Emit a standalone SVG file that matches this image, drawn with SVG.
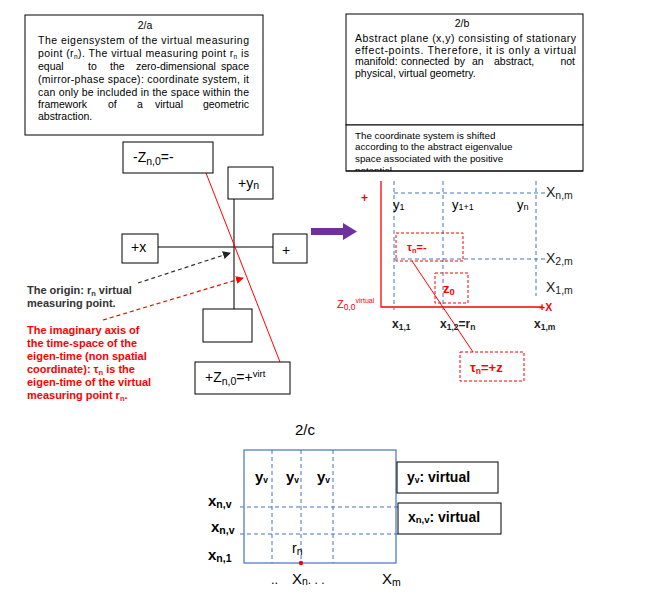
<svg xmlns="http://www.w3.org/2000/svg" width="660" height="598" viewBox="0 0 660 598">
<style>
.t{font-family:"Liberation Sans",Arial,sans-serif;fill:#000}
.p{font-size:10.5px}
.q{font-size:10.5px}
.s{font-size:9.8px}
.o{font-size:11px;font-weight:bold}
.b{font-weight:bold}
.r{fill:#f00}
.box{fill:#fff;stroke:#000;stroke-width:1}
.bd{fill:none;stroke:#4472C4;stroke-width:1;stroke-dasharray:4 3}
.rd{fill:none;stroke:#f00;stroke-width:1;stroke-dasharray:3 2}
.lbl{font-size:13px}
</style>
<defs>
<marker id="ak" markerWidth="8" markerHeight="8" refX="7" refY="4" orient="auto" markerUnits="userSpaceOnUse"><path d="M0,0 L8,4 L0,8 Z" fill="#222"/></marker>
<marker id="ar" markerWidth="8" markerHeight="8" refX="7" refY="4" orient="auto" markerUnits="userSpaceOnUse"><path d="M0,0 L8,4 L0,8 Z" fill="#f00"/></marker>
<clipPath id="cb"><rect x="346" y="125" width="237" height="46"/></clipPath>
</defs>

<g id="box2a">
<rect class="box" x="25" y="15" width="238" height="120" stroke-width="1.3"/>
<text class="t p" x="145" y="29" text-anchor="middle">2/a</text>
<text class="t p" x="38" y="44" textLength="211" lengthAdjust="spacing">The eigensystem of the virtual measuring</text>
<text class="t p" x="38" y="57" textLength="211" lengthAdjust="spacing">point (r<tspan font-size="6.5" dy="2">n</tspan><tspan dy="-2">). The virtual measuring point r</tspan><tspan font-size="6.5" dy="2">n</tspan><tspan dy="-2"> is</tspan></text>
<text class="t p" y="70"><tspan x="38">equal</tspan><tspan x="88">to</tspan><tspan x="110">the</tspan><tspan x="136">zero-dimensional</tspan><tspan x="249" text-anchor="end">space</tspan></text>
<text class="t p" x="38" y="82.5" textLength="211" lengthAdjust="spacing">(mirror-phase space): coordinate system, it</text>
<text class="t p" x="38" y="95.5" textLength="211" lengthAdjust="spacing">can only be included in the space within the</text>
<text class="t p" y="108"><tspan x="38">framework</tspan><tspan x="108">of</tspan><tspan x="137">a</tspan><tspan x="155">virtual</tspan><tspan x="249" text-anchor="end">geometric</tspan></text>
<text class="t p" x="38" y="120">abstraction.</text>
</g>

<g id="box2b">
<rect class="box" x="346" y="14" width="237" height="111"/>
<text class="t q" x="462" y="27" text-anchor="middle">2/b</text>
<text class="t q" x="355" y="41.5" textLength="221" lengthAdjust="spacing">Abstract plane (x,y) consisting of stationary</text>
<text class="t q" x="355" y="53.5" textLength="221" lengthAdjust="spacing">effect-points. Therefore, it is only a virtual</text>
<text class="t q" y="65"><tspan x="355">manifold:</tspan><tspan x="401">connected</tspan><tspan x="454">by</tspan><tspan x="472">an</tspan><tspan x="494">abstract,</tspan><tspan x="575" text-anchor="end">not</tspan></text>
<text class="t q" x="355" y="76.5">physical, virtual geometry.</text>
</g>

<g id="box2b-note">
<rect class="box" x="346" y="125" width="237" height="46"/>
<g clip-path="url(#cb)">
<text class="t s" x="355" y="138.5">The coordinate system is shifted</text>
<text class="t s" x="355" y="150">according to the abstract eigenvalue</text>
<text class="t s" x="355" y="162">space associated with the positive</text>
<text class="t s" x="355" y="174">potential.</text>
</g>
<line x1="346" y1="171" x2="583" y2="171" stroke="#000"/>
</g>

<g id="connectors">
<line x1="234" y1="199" x2="234" y2="309" stroke="#333" stroke-width="1.3"/>
<line x1="158" y1="247" x2="273" y2="247" stroke="#000" stroke-width="1.2"/>
<line x1="206" y1="173" x2="280" y2="362" stroke="#f00" stroke-width="1"/>
<path d="M138,283 L230,253" stroke="#333" stroke-width="1.2" stroke-dasharray="4 3" fill="none" marker-end="url(#ak)"/>
<path d="M103,320 L243,278" stroke="#f00" stroke-width="1.2" stroke-dasharray="4 3" fill="none" marker-end="url(#ar)"/>
<path d="M311,228 L343,228 L343,223 L357,231.5 L343,240 L343,235 L311,235 Z" fill="#7030A0"/>
<polyline points="381,181 381,307 543,307" fill="none" stroke="#f00" stroke-width="1.3"/>
<line class="bd" x1="394" y1="181" x2="394" y2="310"/>
<line class="bd" x1="443" y1="181" x2="443" y2="310"/>
<line class="bd" x1="536" y1="181" x2="536" y2="296"/>
<line class="bd" x1="394" y1="193" x2="545" y2="193"/>
<line class="bd" x1="394" y1="259" x2="545" y2="259"/>
<line x1="412" y1="261" x2="473" y2="352" stroke="#f00" stroke-width="1"/>
</g>

<g id="zneg">
<rect class="box" x="123" y="142" width="90" height="31"/>
<text class="t" x="133" y="162" font-size="14">-Z<tspan font-size="10.5" dy="3">n,0</tspan><tspan dy="-3">=-</tspan></text>
</g>
<g id="yn">
<rect class="box" x="228" y="167" width="45" height="32"/>
<text class="t" x="238" y="188" font-size="14">+y<tspan font-size="10.5" dy="1">n</tspan></text>
</g>
<g id="px">
<rect class="box" x="122" y="234" width="36" height="29"/>
<text class="t" x="131" y="252" font-size="14">+x</text>
</g>
<g id="plus">
<rect class="box" x="273" y="234" width="34" height="29"/>
<text class="t" x="282" y="255" font-size="14">+</text>
</g>
<g id="empty">
<rect class="box" x="203" y="309" width="49" height="33"/>
</g>
<g id="zpos">
<rect class="box" x="195" y="362" width="95" height="32"/>
<text class="t" x="205" y="382" font-size="14">+Z<tspan font-size="10.5" dy="3">n,0</tspan><tspan dy="-3">=+</tspan><tspan font-size="9.5" dy="-5">virt</tspan></text>
</g>

<g id="origin-label">
<text class="t o" x="27" y="294" style="fill:#333">The origin: r<tspan font-size="7.5" dy="2">n</tspan><tspan dy="-2">  virtual</tspan></text>
<text class="t o" x="27" y="307" style="fill:#333">measuring point.</text>
</g>
<g id="imag-label">
<text class="t o r" x="27" y="334">The imaginary axis of</text>
<text class="t o r" x="27" y="347">the time-space of the</text>
<text class="t o r" x="27" y="360">eigen-time (non spatial</text>
<text class="t o r" x="27" y="373">coordinate): τ<tspan font-size="7.5" dy="2">n</tspan><tspan dy="-2"> is the</tspan></text>
<text class="t o r" x="27" y="386">eigen-time of the virtual</text>
<text class="t o r" x="27" y="399">measuring point r<tspan font-size="7.5" dy="2">n</tspan><tspan dy="-2">.</tspan></text>
</g>

<g id="plot2b">
<text class="t b r" x="361" y="202" font-size="12">+</text>
<text class="t lbl" x="393" y="209">y<tspan font-size="9" dy="1">1</tspan></text>
<text class="t lbl" x="452" y="209">y<tspan font-size="9" dy="1">1+1</tspan></text>
<text class="t lbl" x="517" y="209">y<tspan font-size="9" dy="1">n</tspan></text>
<text class="t" x="546" y="197" font-size="14" style="fill:#222">X<tspan font-size="10.5" dy="2">n,m</tspan></text>
<text class="t" x="546" y="263" font-size="14" style="fill:#222">X<tspan font-size="10.5" dy="2">2,m</tspan></text>
<text class="t" x="546" y="292" font-size="14" style="fill:#222">X<tspan font-size="10.5" dy="2">1,m</tspan></text>
<text class="t b r" x="539" y="311" font-size="10.5">+X</text>
<text class="t r" x="337" y="308" font-size="11">Z<tspan font-size="8.5" dy="2">0,0</tspan><tspan font-size="7" dy="-7">virtual</tspan></text>
<text class="t b" x="392" y="328" font-size="12" style="fill:#222">x<tspan font-size="8.5" dy="2">1,1</tspan></text>
<text class="t b" x="440" y="328" font-size="12" style="fill:#222">x<tspan font-size="8.5" dy="2">1,2</tspan><tspan dy="-2">=r</tspan><tspan font-size="8.5" dy="2">n</tspan></text>
<text class="t b" x="534" y="328" font-size="12" style="fill:#222">x<tspan font-size="8.5" dy="2">1,m</tspan></text>
</g>
<g id="tau-neg">
<rect class="rd" x="396" y="233" width="67" height="28"/>
<text class="t b r" x="407" y="251" font-size="11">τ<tspan font-size="7.5" dy="2">n</tspan><tspan dy="-2">=-</tspan></text>
</g>
<g id="z0">
<rect class="rd" x="435" y="273" width="33" height="30"/>
<text class="t b r" x="443" y="293" font-size="13">z<tspan font-size="9.5" dy="2">0</tspan></text>
</g>
<g id="tau-pos">
<rect class="rd" x="460" y="352" width="64" height="29"/>
<text class="t b r" x="470" y="372" font-size="13">τ<tspan font-size="8.5" dy="2">n</tspan><tspan dy="-2">=+z</tspan></text>
</g>

<g id="grid2c">
<text class="t" x="295" y="435" font-size="15">2/c</text>
<rect x="244" y="450" width="152" height="113" fill="none" stroke="#4472C4" stroke-width="1.2"/>
<line class="bd" x1="272" y1="450" x2="272" y2="563"/>
<line class="bd" x1="301" y1="450" x2="301" y2="563"/>
<line class="bd" x1="333" y1="450" x2="333" y2="563"/>
<line class="bd" x1="240" y1="507" x2="398" y2="507"/>
<line class="bd" x1="240" y1="534" x2="398" y2="534"/>
<text class="t b" x="255" y="482" font-size="15">y<tspan font-size="8.5" dy="1">v</tspan></text>
<text class="t b" x="286" y="482" font-size="15">y<tspan font-size="8.5" dy="1">v</tspan></text>
<text class="t b" x="317" y="482" font-size="15">y<tspan font-size="8.5" dy="1">v</tspan></text>
<text class="t b" x="208" y="506" font-size="15">x<tspan font-size="10.5" dy="2">n,v</tspan></text>
<text class="t b" x="211" y="532" font-size="15">x<tspan font-size="10.5" dy="2">n,v</tspan></text>
<text class="t b" x="208" y="560" font-size="15">x<tspan font-size="10.5" dy="2">n,1</tspan></text>
<text class="t" x="292" y="553" font-size="14">r<tspan font-size="10.5" dy="2">n</tspan></text>
<circle cx="301" cy="563" r="2.2" fill="#f00"/>
<text class="t" x="271" y="584" font-size="13">..</text>
<text class="t" x="292" y="584" font-size="15">X<tspan font-size="10.5" dy="1">n</tspan><tspan font-size="12" dy="-1">. . .</tspan></text>
<text class="t" x="382" y="584" font-size="15">X<tspan font-size="10.5" dy="2">m</tspan></text>
</g>
<g id="yv-box">
<rect class="box" x="397" y="462" width="101" height="31"/>
<text class="t b" x="407" y="482" font-size="14">y<tspan font-size="8.5" dy="1">v</tspan><tspan dy="-1">: virtual</tspan></text>
</g>
<g id="xnv-box">
<rect class="box" x="398" y="503" width="103" height="31"/>
<text class="t b" x="408" y="522" font-size="14">x<tspan font-size="9.5" dy="1">n,v</tspan><tspan dy="-1">: virtual</tspan></text>
</g>
</svg>
